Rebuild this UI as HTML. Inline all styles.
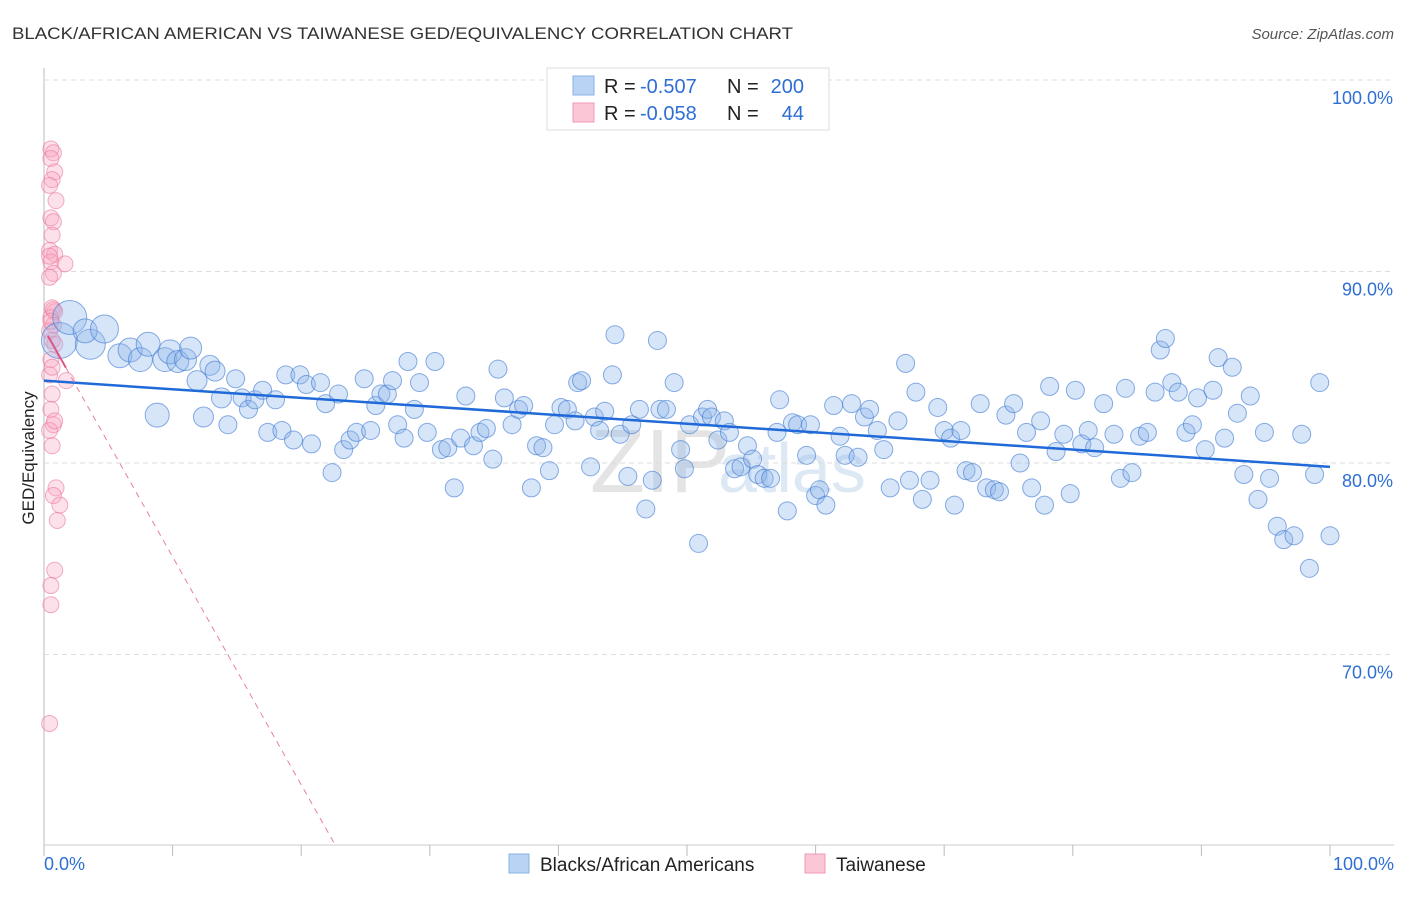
<!DOCTYPE html>
<html><head><meta charset="utf-8"><style>
body{margin:0;background:#fff;font-family:"Liberation Sans",sans-serif}
svg text{font-family:"Liberation Sans",sans-serif}
</style></head><body>
<svg id="c" width="1406" height="892">
<text x="12" y="39" font-size="17" fill="#333" textLength="781" lengthAdjust="spacingAndGlyphs">BLACK/AFRICAN AMERICAN VS TAIWANESE GED/EQUIVALENCY CORRELATION CHART</text>
<text x="1394" y="39" font-size="15" fill="#555" text-anchor="end" font-style="italic">Source: ZipAtlas.com</text>
<text x="590" y="492" font-size="90" fill="#e4e4e4" font-family="Liberation Serif">ZIP</text>
<text x="718" y="492" font-size="70" fill="#dde8f5">atlas</text>
<g id="grid"></g><g id="pts"></g><g id="lines"></g>
<text transform="translate(34,458) rotate(-90)" font-size="17" fill="#222" text-anchor="middle">GED/Equivalency</text>
<g>
<rect x="547" y="68" width="282" height="62" fill="#fff" stroke="#ddd"/>
<rect x="573" y="76" width="21" height="19" fill="#b9d3f5" stroke="#8ab0e6"/>
<rect x="573" y="103" width="21" height="19" fill="#fbc7d6" stroke="#f09ab4"/>
<text x="604" y="93" font-size="20" fill="#222">R =</text>
<text x="640" y="93" font-size="20" fill="#2e6fd4">-0.507</text>
<text x="727" y="93" font-size="20" fill="#222">N =</text>
<text x="804" y="93" font-size="20" fill="#2e6fd4" text-anchor="end">200</text>
<text x="604" y="120" font-size="20" fill="#222">R =</text>
<text x="640" y="120" font-size="20" fill="#2e6fd4">-0.058</text>
<text x="727" y="120" font-size="20" fill="#222">N =</text>
<text x="804" y="120" font-size="20" fill="#2e6fd4" text-anchor="end">44</text>
</g>
<g>
<rect x="509" y="854" width="20" height="19" fill="#b9d3f5" stroke="#8ab0e6"/>
<text x="540" y="871" font-size="19" fill="#222">Blacks/African Americans</text>
<rect x="805" y="854" width="20" height="19" fill="#fbc7d6" stroke="#f09ab4"/>
<text x="836" y="871" font-size="19" fill="#222">Taiwanese</text>
</g>
<text x="44" y="870" font-size="18" fill="#2e6fd4">0.0%</text>
<text x="1394" y="870" font-size="18" fill="#2e6fd4" text-anchor="end">100.0%</text>
</svg>
<script>
const yTicks=[100,90,80,70];
const yTickLabels=["100.0%","90.0%","80.0%","70.0%"];
const blueX=[1.2,2.0,3.6,3.2,4.7,5.9,6.7,7.5,8.1,8.8,9.4,9.8,10.4,11.0,11.4,11.9,12.4,12.9,13.3,13.8,14.3,14.9,15.4,15.9,16.4,17.0,17.4,18.0,18.5,18.8,19.4,19.9,20.4,20.8,21.5,21.9,22.4,22.9,23.3,23.8,24.3,24.9,25.4,25.8,26.2,26.7,27.1,27.5,28.0,28.3,28.8,29.2,29.8,30.4,30.9,31.4,31.9,32.4,32.8,33.4,33.9,34.4,34.9,35.3,35.8,36.4,36.9,37.3,37.9,38.3,38.8,39.3,39.7,40.2,40.7,41.3,41.5,41.8,42.5,42.8,43.2,43.6,44.2,44.4,44.8,45.4,45.7,46.3,46.8,47.3,47.7,47.9,48.4,49.0,49.5,49.8,50.2,50.9,51.2,51.6,51.9,52.4,52.9,53.3,53.7,54.2,54.7,55.1,55.5,56.0,56.5,57.0,57.2,57.8,58.2,58.6,59.3,59.6,60.0,60.3,60.8,61.4,61.9,62.3,62.8,63.3,63.8,64.2,64.8,65.3,65.8,66.4,67.0,67.3,67.8,68.3,68.9,69.5,70.0,70.5,70.8,71.3,71.7,72.2,72.8,73.3,73.9,74.3,74.8,75.4,75.9,76.4,76.8,77.5,77.8,78.2,78.7,79.3,79.8,80.2,80.7,81.2,81.7,82.4,83.2,83.7,84.1,84.6,85.2,85.8,86.4,86.8,87.2,87.7,88.2,88.8,89.3,89.7,90.3,90.9,91.3,91.8,92.4,92.8,93.3,93.8,94.4,94.9,95.3,95.9,96.4,97.2,97.8,98.4,98.8,99.2,100.0];
const blueY=[86.4,87.6,86.2,86.9,87.0,85.6,85.9,85.4,86.2,82.5,85.4,85.8,85.3,85.4,86.0,84.3,82.4,85.1,84.8,83.4,82.0,84.4,83.4,82.8,83.3,83.8,81.6,83.3,81.7,84.6,81.2,84.6,84.1,81.0,84.2,83.1,79.5,83.6,80.7,81.2,81.6,84.4,81.7,83.0,83.6,83.6,84.3,82.0,81.3,85.3,82.8,84.2,81.6,85.3,80.7,80.8,78.7,81.3,83.5,80.9,81.6,81.8,80.2,84.9,83.4,82.0,82.8,83.0,78.7,80.9,80.8,79.6,82.0,82.9,82.8,82.2,84.2,84.3,79.8,82.4,81.7,82.7,84.6,86.7,81.5,79.3,82.0,82.8,77.6,79.1,86.4,82.8,82.8,84.2,80.7,79.7,82.0,75.8,82.4,82.8,82.4,81.2,82.2,81.6,79.7,79.8,80.9,80.2,79.4,79.2,79.2,81.6,83.3,77.5,82.1,82.0,80.4,82.0,78.3,78.6,77.8,83.0,81.4,80.4,83.1,80.3,82.4,82.8,81.7,80.7,78.7,82.2,85.2,79.1,83.7,78.1,79.1,82.9,81.7,81.3,77.8,81.7,79.6,79.5,83.1,78.7,78.6,78.5,82.5,83.1,80.0,81.6,78.7,82.2,77.8,84.0,80.6,81.5,78.4,83.8,81.0,81.7,80.8,83.1,81.5,79.2,83.9,79.5,81.4,81.6,83.7,85.9,86.5,84.2,83.7,81.6,82.0,83.4,80.7,83.8,85.5,81.3,85.0,82.6,79.4,83.5,78.1,81.6,79.2,76.7,76.0,76.2,81.5,74.5,79.4,84.2,76.2];
const blueR=[18,17,15,12,14,12,12,12,12,12,12,12,11,11,11,10,10,10,10,10];
const pinkX=[0.3,0.5,0.3,0.6,0.4,0.2,0.7,0.3,0.5,0.4,0.2,0.6,0.3,1.4,0.5,0.2,0.4,0.6,0.3,0.5,0.2,0.4,0.6,0.3,0.2,1.5,0.4,0.3,0.5,0.2,0.4,0.7,0.5,1.0,0.8,0.6,0.3,0.3,0.2,0.5,0.3,0.4,0.6,0.2];
const pinkY=[96.4,96.2,95.9,95.2,94.8,94.5,93.7,92.8,92.6,91.9,91.1,90.9,90.5,90.4,89.9,89.7,88.1,87.9,87.6,87.2,86.9,86.4,86.2,85.4,84.6,84.3,83.6,82.8,82.0,81.7,80.9,78.7,78.3,77.8,77.0,74.4,73.6,72.6,66.4,88.0,87.4,85.0,82.2,90.8];
const blueTrend=[84.3,79.8];
const pinkTrend=[87.0,-1.19];
const X0=44,X1=1330,Y100=80,PXY=19.15;
const sx=v=>X0+(X1-X0)*v/100;
const sy=v=>Y100+(100-v)*PXY;
const NS="http://www.w3.org/2000/svg";
function mk(t,a,p){const e=document.createElementNS(NS,t);for(const k in a)e.setAttribute(k,a[k]);p.appendChild(e);return e;}
const g=document.getElementById('grid');
mk('line',{x1:44,y1:68,x2:44,y2:845,stroke:'#bbb'},g);
mk('line',{x1:44,y1:845,x2:1394,y2:845,stroke:'#ccc'},g);
yTicks.forEach((t,i)=>{
 const l=mk('line',{x1:44,y1:sy(t),x2:1394,y2:sy(t),stroke:'#ddd','stroke-dasharray':'5,4'},g);
 
 
 const tx=mk('text',{x:1393,y:sy(t)+24,'font-size':18,fill:'#2e6fd4','text-anchor':'end'},g);
 tx.textContent=yTickLabels[i];
 
 
});
for(let i=0;i<=10;i++){const tk=mk('line',{x1:sx(i*10),y1:845,x2:sx(i*10),y2:856,stroke:'#bbb'},g);
 
 }
const p=document.getElementById('pts');
pinkX.forEach((x,i)=>{const c=mk('circle',{cx:sx(x)+3,cy:sy(pinkY[i]),r:8,fill:'rgba(248,170,195,0.35)',stroke:'rgba(235,120,155,0.6)','stroke-width':1},p);
 
 });
blueX.forEach((x,i)=>{const c=mk('circle',{cx:sx(x),cy:sy(blueY[i]),r:blueR[i]||9,fill:'rgba(140,180,235,0.35)',stroke:'rgba(60,120,210,0.6)','stroke-width':1},p);
 
 });
const L=document.getElementById('lines');
const bl=mk('line',{x1:sx(0),y1:sy(blueTrend[0]),x2:sx(100),y2:sy(blueTrend[1]),stroke:'#1f6ad8','stroke-width':2.5},L);


const pe=(60-pinkTrend[0])/pinkTrend[1];
const pd=mk('line',{x1:sx(1.7),y1:sy(pinkTrend[0]+pinkTrend[1]*1.7),x2:sx(pe),y2:sy(60),stroke:'#e8809f','stroke-width':1,'stroke-dasharray':'6,5'},L);


const ps=mk('line',{x1:sx(0.3),y1:sy(pinkTrend[0]+pinkTrend[1]*0.3),x2:sx(1.7),y2:sy(pinkTrend[0]+pinkTrend[1]*1.7),stroke:'#e0557f','stroke-width':2},L);


</script>
</body></html>
